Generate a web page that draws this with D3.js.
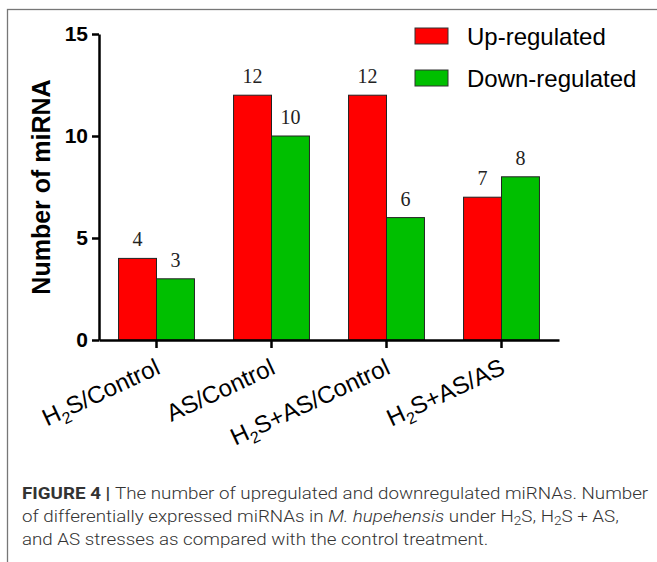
<!DOCTYPE html>
<meta charset="utf-8">
<style>
body { margin: 0; background: #fff; }
svg { display: block; font-family: "Liberation Sans", Arial, sans-serif; }
.axis path, .axis line { stroke: #000; stroke-width: 2.5; }
.axis--y text { font-size: 21px; font-weight: bold; fill: #000; }
.axis--x text { font-size: 24px; fill: #000; }
.bar { stroke: #222; stroke-width: 1; }
.value { font-family: "Liberation Serif", "Times New Roman", serif; font-size: 20px; fill: #222; }
.legend text { font-size: 24px; fill: #000; }
.caption { fill: #333; font-family: Roboto, "Liberation Sans", sans-serif; font-weight: 300; font-size: 16.5px; }
.caption .b { font-weight: bold; }
</style>
<svg width="657" height="562"></svg>
<script src="https://cdn.jsdelivr.net/npm/d3@7/dist/d3.min.js"></script>
<script>

var categories = ["H2S/Control", "AS/Control", "H2S+AS/Control", "H2S+AS/AS"];
var series = ["Up-regulated", "Down-regulated"];
var upValues = [4, 12, 12, 7];
var downValues = [3, 10, 6, 8];
var yTicks = [0, 5, 10, 15];
var colors = ["#ff0000", "#00bf00"];

var svg = d3.select("svg");

// gray frame round the figure (cut off on the right and bottom)
svg.append("rect")
    .attr("x", 7.5).attr("y", 9.5)
    .attr("width", 700).attr("height", 600)
    .attr("fill", "none")
    .attr("stroke", "#777")
    .attr("stroke-width", 1.3);

var data = categories.map(function(c, i) {
  return {cat: c, values: [upValues[i], downValues[i]]};
});

var x0 = d3.scaleBand().domain(categories).range([99, 559]).paddingInner(0.34).paddingOuter(0.17),
    x1 = d3.scaleBand().domain(series).range([0, x0.bandwidth()]),
    y = d3.scaleLinear().domain([0, 15]).range([340, 34]);

var color = d3.scaleOrdinal().domain(series).range(colors);

// bars
var groups = svg.selectAll(".group")
  .data(data)
  .enter().append("g")
    .attr("class", "group")
    .attr("transform", function(d) { return "translate(" + x0(d.cat) + ",0)"; });

groups.selectAll("rect")
  .data(function(d) { return d.values.map(function(v, i) { return {key: series[i], value: v}; }); })
  .enter().append("rect")
    .attr("class", "bar")
    .attr("x", function(d) { return x1(d.key); })
    .attr("y", function(d) { return y(d.value); })
    .attr("width", x1.bandwidth())
    .attr("height", function(d) { return y(0) - y(d.value); })
    .attr("fill", function(d) { return color(d.key); });

groups.selectAll(".value")
  .data(function(d) { return d.values.map(function(v, i) { return {key: series[i], value: v}; }); })
  .enter().append("text")
    .attr("class", "value")
    .attr("text-anchor", "middle")
    .attr("x", function(d) { return x1(d.key) + x1.bandwidth() / 2; })
    .attr("y", function(d) { return y(d.value) - 12; })
    .text(function(d) { return d.value; });

// axes
svg.append("g")
    .attr("class", "axis axis--y")
    .attr("transform", "translate(99,0)")
    .call(d3.axisLeft(y).tickValues(yTicks).tickSize(7).tickSizeOuter(0).tickPadding(4));

var xAxis = svg.append("g")
    .attr("class", "axis axis--x")
    .attr("transform", "translate(0,340)")
    .call(d3.axisBottom(x0).tickSize(8).tickSizeOuter(0));

xAxis.selectAll(".tick text")
    .attr("x", 0).attr("y", 0).attr("dy", 0)
    .attr("text-anchor", "end")
    .attr("transform", "translate(5,33) rotate(-25)")
    .each(function(d) {
      var t = d3.select(this).text(null),
          parts = d.split("2");
      if (parts.length > 1) {
        t.append("tspan").text(parts[0]);
        t.append("tspan").attr("font-size", "16px").attr("dy", 6).text("2");
        t.append("tspan").attr("dy", -6).text(parts.slice(1).join("2"));
      } else {
        t.text(d);
      }
    });

// y label
svg.append("text")
    .attr("transform", "translate(50," + (y(7.5)) + ") rotate(-90)")
    .attr("text-anchor", "middle")
    .style("font-size", "25px")
    .style("font-weight", "bold")
    .text("Number of miRNA");

// legend
var legend = svg.append("g").attr("class", "legend")
  .selectAll("g")
  .data(series)
  .enter().append("g")
    .attr("transform", function(d, i) { return "translate(415," + (28 + i * 42) + ")"; });

legend.append("rect")
    .attr("width", 33).attr("height", 16)
    .attr("fill", function(d) { return color(d); })
    .attr("stroke", "#333").attr("stroke-width", 1);

legend.append("text")
    .attr("x", 52).attr("y", 17)
    .text(function(d) { return d; });

// caption
var cap = svg.append("g").attr("class", "caption").attr("transform", "translate(22,0)");

var l1 = cap.append("text").attr("y", 499);
l1.append("tspan").attr("class", "b").text("FIGURE 4 | ");
l1.append("tspan").text("The number of upregulated and downregulated miRNAs. Number");

var l2 = cap.append("text").attr("y", 522);
l2.append("tspan").text("of differentially expressed miRNAs in ");
l2.append("tspan").style("font-style", "italic").text("M. hupehensis");
l2.append("tspan").text(" under H");
l2.append("tspan").attr("font-size", "12px").attr("dy", 3).text("2");
l2.append("tspan").attr("dy", -3).text("S, H");
l2.append("tspan").attr("font-size", "12px").attr("dy", 3).text("2");
l2.append("tspan").attr("dy", -3).text("S + AS,");

var l3 = cap.append("text").attr("y", 545);
l3.append("tspan").text("and AS stresses as compared with the control treatment.");

var k = 627 / l1.node().getComputedTextLength();
cap.selectAll("text").attr("transform", "scale(" + k + ",1)");

</script>
